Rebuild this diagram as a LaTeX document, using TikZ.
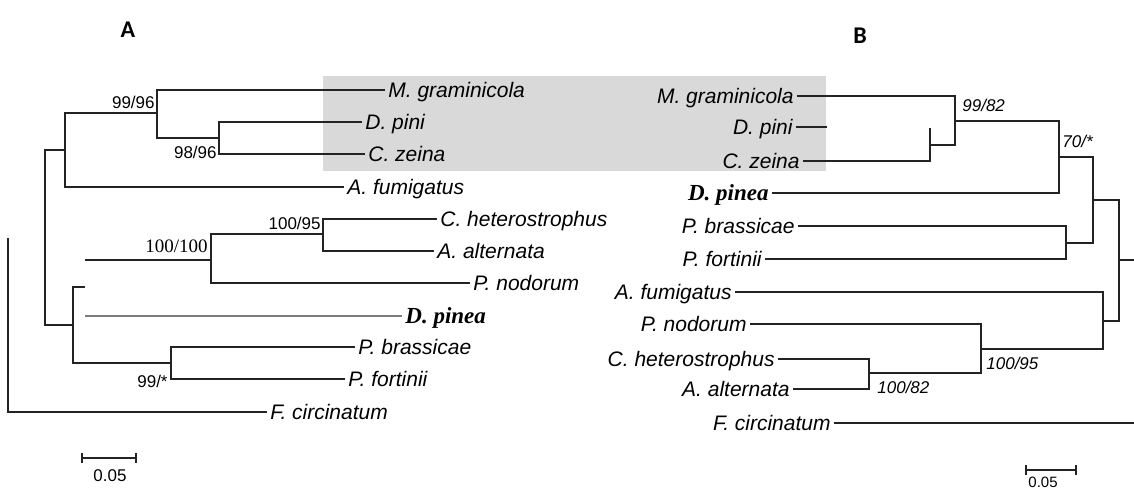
\documentclass[tikz,border=0pt]{standalone}
\usepackage{fontspec}
\setmainfont{Liberation Serif}
\setsansfont{Liberation Sans}
\newfontfamily\panelfont{Carlito}
\usepackage{xcolor}
\usetikzlibrary{arrows.meta}
\definecolor{BoxGray}{RGB}{217,217,217}
\definecolor{BranchInk}{RGB}{35,35,35}
\definecolor{PineaGray}{RGB}{125,125,125}

\begin{document}
\begin{tikzpicture}[x=0.5pt, y=-0.5pt,
    branch/.style={draw=BranchInk, line width=0.9pt},
    taxon/.style={font=\sffamily\itshape\fontsize{10.5}{12}\selectfont, inner sep=1.5pt, text height=7.5pt, text depth=0pt},
    pinea/.style={font=\rmfamily\bfseries\itshape\fontsize{11.5}{13}\selectfont, inner sep=1.5pt, text height=7.5pt, text depth=0pt},
    boot/.style={font=\sffamily\fontsize{8.5}{10}\selectfont, inner sep=0pt},
    bootserif/.style={font=\rmfamily\fontsize{9.5}{11}\selectfont, inner sep=0pt},
    bootit/.style={font=\sffamily\itshape\fontsize{8.5}{10}\selectfont, inner sep=0pt},
    panel/.style={font=\panelfont\bfseries\fontsize{12}{14}\selectfont, inner sep=0pt},
    scalebar/.style={draw=BranchInk, line width=0.9pt, {Bar[width=5pt]}-{Bar[width=5pt]}},
    scalelab/.style={font=\sffamily\fontsize{8.5}{10}\selectfont, inner sep=0pt}]
    \useasboundingbox (0,0) rectangle (1134,489);

    % Shaded clade
    \fill[BoxGray] (323,76) rectangle (826,171);

    % Panel letters
    \node[panel] (panelA) at (128,30) {A};
    \node[panel] (panelB) at (860,36) {B};

    % Tree A: taxa
    \node[taxon, anchor=west] (lMg) at (385,90) {M. graminicola};
    \node[taxon, anchor=west] (lDp) at (362,122) {D. pini};
    \node[taxon, anchor=west] (lCz) at (365,154) {C. zeina};
    \node[taxon, anchor=west] (lAf) at (344,187) {A. fumigatus};
    \node[taxon, anchor=west] (lCh) at (437,219) {C. heterostrophus};
    \node[taxon, anchor=west] (lAa) at (434,251) {A. alternata};
    \node[taxon, anchor=west] (lPn) at (470,283) {P. nodorum};
    \node[pinea, anchor=west] (lDpa) at (402,316) {D. pinea};
    \node[taxon, anchor=west] (lPb) at (355,347) {P. brassicae};
    \node[taxon, anchor=west] (lPf) at (345,379) {P. fortinii};
    \node[taxon, anchor=west] (lFc) at (267,412) {F. circinatum};

    % Tree A: internal nodes
    \coordinate (a1) at (157,113);
    \coordinate (a2) at (219,138);
    \coordinate (a3) at (65,150);
    \coordinate (a4) at (45,238);
    \coordinate (a5) at (73,325);
    \coordinate (a5stub) at (85,287);
    \coordinate (a6) at (171,363);
    \coordinate (b0) at (85,260);
    \coordinate (b1) at (211,260);
    \coordinate (b2) at (323,234);
    \coordinate (d0) at (85,316);
    \coordinate (r0) at (8,238);

    % Tree A: branches
    \draw[branch] (a1) |- (lMg.west);
    \draw[branch] (a1) |- (a2);
    \draw[branch] (a2) |- (lDp.west);
    \draw[branch] (a2) |- (lCz.west);
    \draw[branch] (a3) |- (a1);
    \draw[branch] (a3) |- (lAf.west);
    \draw[branch] (a4) |- (a3);
    \draw[branch] (a4) |- (a5);
    \draw[branch] (a5) |- (a5stub);
    \draw[branch] (a5) |- (a6);
    \draw[branch] (a6) |- (lPb.west);
    \draw[branch] (a6) |- (lPf.west);
    \draw[branch] (b0) -- (b1);
    \draw[branch] (b1) |- (b2);
    \draw[branch] (b1) |- (lPn.west);
    \draw[branch] (b2) |- (lCh.west);
    \draw[branch] (b2) |- (lAa.west);
    \draw[branch, draw=PineaGray] (d0) -- (lDpa.west);
    \draw[branch] (r0) |- (lFc.west);

    % Tree A: support values
    \node[boot, anchor=east] (bsA1) at (155,102) {99/96};
    \node[boot, anchor=east] (bsA2) at (217,152) {98/96};
    \node[boot, anchor=east] (bsA3) at (321,223) {100/95};
    \node[bootserif, anchor=east] (bsA4) at (208,246) {100/100};
    \node[boot, anchor=east] (bsA5) at (168,381) {99/*};

    % Tree B: taxa
    \node[taxon, anchor=east] (rMg) at (797,96) {M. graminicola};
    \node[taxon, anchor=east] (rDpi) at (796,127) {D. pini};
    \node[taxon, anchor=east] (rCz) at (803,161) {C. zeina};
    \node[pinea, anchor=east] (rDpa) at (772,193) {D. pinea};
    \node[taxon, anchor=east] (rPb) at (798,226) {P. brassicae};
    \node[taxon, anchor=east] (rPf) at (765,259) {P. fortinii};
    \node[taxon, anchor=east] (rAf) at (735,292) {A. fumigatus};
    \node[taxon, anchor=east] (rPn) at (750,324) {P. nodorum};
    \node[taxon, anchor=east] (rCh) at (778,359) {C. heterostrophus};
    \node[taxon, anchor=east] (rAa) at (793,389) {A. alternata};
    \node[taxon, anchor=east] (rFc) at (834,423) {F. circinatum};

    % Tree B: internal nodes
    \coordinate (c1) at (955,121);
    \coordinate (c2) at (930,145);
    \coordinate (c2top) at (930,128);
    \coordinate (c3) at (1059,157);
    \coordinate (c4) at (1066,243);
    \coordinate (c5) at (1093,200);
    \coordinate (c6) at (1119,260);
    \coordinate (c7) at (1103,321);
    \coordinate (c8) at (981,349);
    \coordinate (c9) at (869,373);
    \coordinate (rootB) at (1134,260);
    \coordinate (dpEnd) at (827,127);
    \coordinate (fcEnd) at (1134,423);

    % Tree B: branches
    \draw[branch] (c1) |- (rMg.east);
    \draw[branch] (c1) |- (c2);
    \draw[branch] (c2) |- (rCz.east);
    \draw[branch] (c2) -- (c2top);
    \draw[branch] (rDpi.east) -- (dpEnd);
    \draw[branch] (c3) |- (c1);
    \draw[branch] (c3) |- (rDpa.east);
    \draw[branch] (c5) |- (c3);
    \draw[branch] (c5) |- (c4);
    \draw[branch] (c4) |- (rPb.east);
    \draw[branch] (c4) |- (rPf.east);
    \draw[branch] (c6) |- (c5);
    \draw[branch] (c6) |- (c7);
    \draw[branch] (c6) -- (rootB);
    \draw[branch] (c7) |- (rAf.east);
    \draw[branch] (c7) |- (c8);
    \draw[branch] (c8) |- (rPn.east);
    \draw[branch] (c8) |- (c9);
    \draw[branch] (c9) |- (rCh.east);
    \draw[branch] (c9) |- (rAa.east);
    \draw[branch] (rFc.east) -- (fcEnd);

    % Tree B: support values
    \node[bootit, anchor=west] (bsB1) at (962,105) {99/82};
    \node[bootit, anchor=west] (bsB2) at (1062,141) {70/*};
    \node[bootit, anchor=west] (bsB3) at (986,363) {100/95};
    \node[bootit, anchor=west] (bsB4) at (877,387) {100/82};

    % Scale bars
    \coordinate (sA0) at (81,458);
    \coordinate (sA1) at (137,458);
    \draw[scalebar] (sA0) -- (sA1);
    \node[scalelab] (sAlab) at (110,476) {0.05};
    \coordinate (sB0) at (1025,470);
    \coordinate (sB1) at (1077,470);
    \draw[scalebar] (sB0) -- (sB1);
    \node[scalelab, font=\sffamily\fontsize{7.5}{9}\selectfont] (sBlab) at (1043,482) {0.05};
\end{tikzpicture}
\end{document}
